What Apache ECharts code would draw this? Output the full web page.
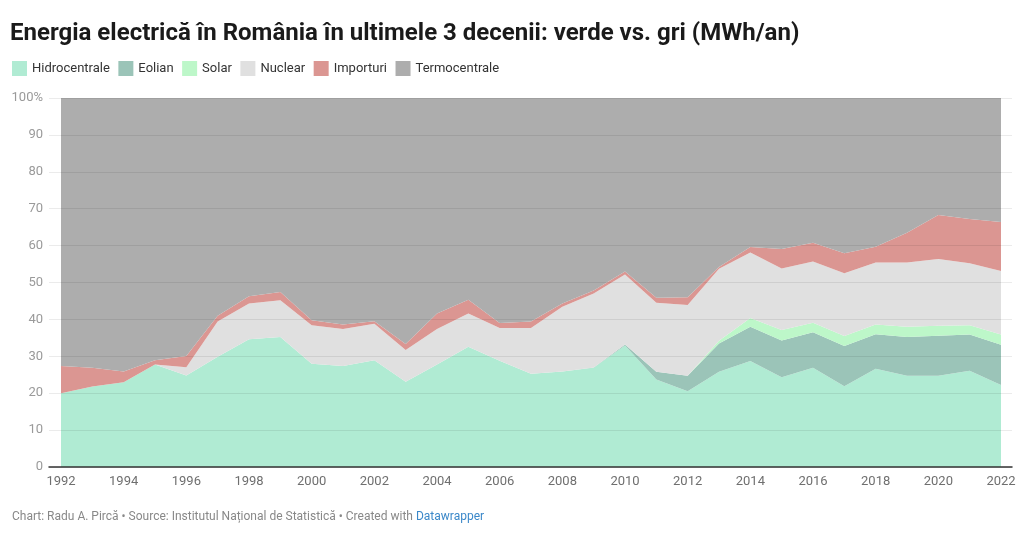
<!DOCTYPE html>
<html>
<head>
<meta charset="utf-8">
<script src="https://cdn.jsdelivr.net/npm/echarts@6/dist/echarts.min.js"></script>
<style>
html,body{margin:0;padding:0;background:#fff;}
#chart{width:1024px;height:546px;}
</style>
</head>
<body>
<div id="chart"></div>
<script>
var years = ['1992','1993','1994','1995','1996','1997','1998','1999','2000','2001','2002','2003','2004','2005','2006','2007','2008','2009','2010','2011','2012','2013','2014','2015','2016','2017','2018','2019','2020','2021','2022'];
var hidro = [20.0,21.8,23.0,27.8,24.8,29.9,34.6,35.2,28.0,27.4,28.9,23.1,27.8,32.6,28.8,25.3,25.9,26.9,32.9,23.7,20.5,25.8,28.7,24.3,26.9,21.9,26.6,24.7,24.7,26.1,22.2];
var eolian = [0,0,0,0,0,0,0,0,0,0,0,0,0,0,0,0,0,0.05,0.3,2.1,4.2,7.7,9.3,10.0,9.6,10.9,9.4,10.5,10.9,9.8,10.9];
var solar = [0,0,0,0,0,0,0,0,0,0,0,0,0,0,0,0,0,0,0,0,0.02,0.7,2.4,2.8,2.6,2.7,2.6,2.8,2.7,2.5,2.8];
var nuclear = [0,0,0,0,2.2,9.5,9.7,10.0,10.4,10.0,9.9,8.6,9.6,9.0,8.9,12.4,17.5,20.1,19.0,18.7,19.2,19.5,17.7,16.7,16.6,17.0,16.8,17.4,18.1,16.8,17.2];
var importuri = [7.4,5.1,2.9,1.1,3.1,1.6,2.0,2.2,1.4,1.2,0.7,1.6,4.2,3.7,1.3,1.7,0.9,0.8,0.8,1.4,2.1,0.5,1.5,5.3,5.1,5.4,4.3,8.1,11.9,12.0,13.3];
var termo = [72.6,73.1,74.1,71.1,69.9,59.0,53.7,52.6,60.2,61.4,60.5,66.7,58.4,54.7,61.0,60.6,55.7,52.15,47.0,54.1,53.98,45.8,40.4,40.9,39.2,42.1,40.3,36.5,31.7,32.8,33.6];
var yTickLabels = ['0','10','20','30','40','50','60','70','80','90','100%'];

var names = ['Hidrocentrale','Eolian','Solar','Nuclear','Importuri','Termocentrale'];
var colors = ['#b0ebd3','#9bc4b8','#bdf7c9','#e0e0e0','#db9692','#adadad'];
var arrays = [hidro,eolian,solar,nuclear,importuri,termo];

var series = names.map(function(n,i){
  return {
    name: n,
    type: 'line',
    stack: 'total',
    xAxisIndex: 1,
    yAxisIndex: 1,
    data: arrays[i],
    symbol: 'none',
    showSymbol: false,
    lineStyle: {width: 0, color: colors[i]},
    areaStyle: {color: colors[i], opacity: 1},
    itemStyle: {color: colors[i]},
    z: 2
  };
});

var chart = echarts.init(document.getElementById('chart'), null, {renderer: 'canvas'});
chart.setOption({
  animation: false,
  textStyle: {fontFamily: 'Roboto'},
  title: [
    {
      text: 'Energia electrică în România în ultimele 3 decenii: verde vs. gri (MWh/an)',
      left: 10, top: 22, padding: 0,
      textStyle: {fontFamily: 'Roboto', fontWeight: 'bold', fontSize: 24, color: '#1a1a1a'}
    },
    {
      text: '{g|Chart: Radu A. Pircă • Source: Institutul Național de Statistică • Created with }{b|Datawrapper}',
      left: 12, top: 511, padding: 0,
      textStyle: {
        fontWeight: 'normal',
        rich: {
          g: {fontFamily: 'Roboto', fontSize: 12, fontWeight: 'normal', color: '#888888'},
          b: {fontFamily: 'Roboto', fontSize: 12, fontWeight: 'normal', color: '#3b88c9'}
        }
      }
    }
  ],
  legend: {
    left: 12, top: 61, padding: 0,
    itemWidth: 15, itemHeight: 15, itemGap: 8.5,
    icon: 'rect',
    selectedMode: false,
    textStyle: {fontFamily: 'Roboto', fontSize: 13, color: '#333333'},
    data: names
  },
  grid: [
    {left: 49, right: 12, top: 98, bottom: 79},
    {left: 61, right: 23, top: 98, bottom: 79}
  ],
  xAxis: [
    {
      gridIndex: 0, type: 'value', min: 0, max: 1,
      axisLine: {show: true, onZero: false, lineStyle: {color: '#333333', width: 1.5}},
      axisTick: {show: false}, axisLabel: {show: false}, splitLine: {show: false},
      z: 5
    },
    {
      gridIndex: 1, type: 'category', data: years, boundaryGap: false,
      axisLine: {show: false}, axisTick: {show: false}, splitLine: {show: false},
      axisLabel: {interval: 1, color: '#6f6f6f', fontSize: 13, fontFamily: 'Roboto', margin: 8, showMaxLabel: true}
    }
  ],
  yAxis: [
    {
      gridIndex: 0, type: 'value', min: 0, max: 100, interval: 10,
      axisLine: {show: false}, axisTick: {show: false},
      axisLabel: {
        color: '#9a9a9a', fontSize: 13, fontFamily: 'Roboto', margin: 6,
        formatter: function(v){ return yTickLabels[Math.round(v/10)]; }
      },
      splitLine: {show: true, lineStyle: {color: 'rgba(0,0,0,0.08)', width: 1}},
      z: 5
    },
    {
      gridIndex: 1, type: 'value', min: 0, max: 100,
      show: false
    }
  ],
  series: series
});
</script>
</body>
</html>
